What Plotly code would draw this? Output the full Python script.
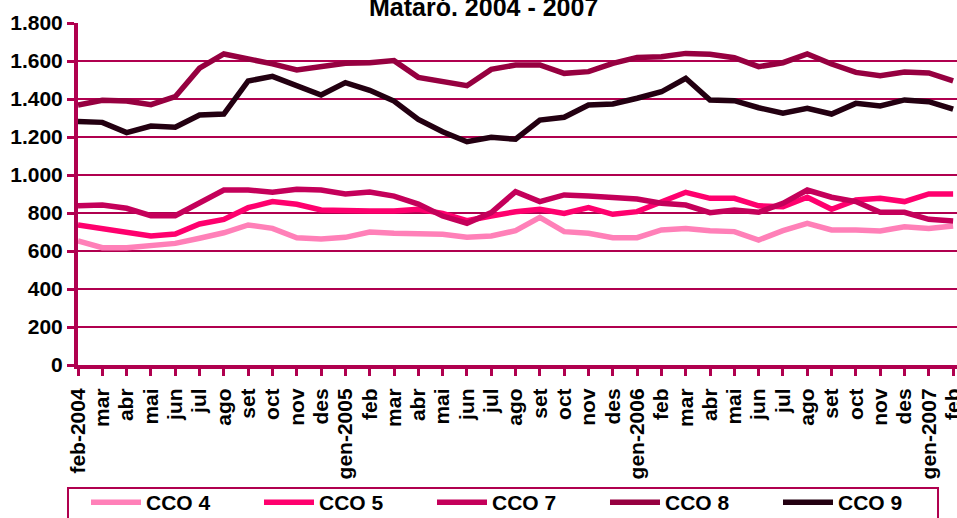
import plotly.graph_objects as go

labels = ["feb-2004", "mar", "abr", "mai", "jun", "jul", "ago", "set", "oct", "nov", "des",
          "gen-2005", "feb", "mar", "abr", "mai", "jun", "jul", "ago", "set", "oct", "nov", "des",
          "gen-2006", "feb", "mar", "abr", "mai", "jun", "jul", "ago", "set", "oct", "nov", "des",
          "gen-2007", "feb"]

cco4 = [653, 617, 617, 632, 640, 667, 696, 737, 719, 670, 663, 672, 700, 693, 688, 688, 672, 679,
        707, 777, 702, 693, 670, 670, 711, 719, 707, 702, 658, 707, 746, 711, 711, 705, 728, 719, 732]
cco5 = [737, 716, 702, 679, 689, 742, 766, 828, 860, 846, 816, 811, 811, 811, 820, 798, 760, 784,
        807, 820, 798, 828, 793, 807, 860, 909, 877, 877, 838, 833, 883, 820, 868, 877, 860, 900, 900]
cco7 = [838, 842, 825, 786, 786, 854, 921, 921, 909, 925, 921, 900, 910, 889, 847, 784, 746, 802,
        912, 860, 895, 889, 881, 874, 851, 842, 802, 816, 804, 851, 921, 883, 860, 804, 804, 767, 758]
cco8 = [1368, 1393, 1389, 1370, 1412, 1562, 1637, 1612, 1585, 1553, 1567, 1588, 1591, 1602, 1514,
        1491, 1470, 1556, 1579, 1579, 1535, 1544, 1588, 1619, 1622, 1640, 1635, 1617, 1570, 1591,
        1637, 1584, 1540, 1523, 1542, 1537, 1496]
cco9 = [1281, 1277, 1223, 1258, 1251, 1316, 1321, 1495, 1519, 1468, 1421, 1486, 1446, 1389, 1293,
        1228, 1175, 1198, 1188, 1289, 1304, 1368, 1374, 1404, 1438, 1509, 1395, 1391, 1354, 1325,
        1351, 1321, 1377, 1363, 1395, 1386, 1347]

series_names = ["CCO 4", "CCO 5", "CCO 7", "CCO 8", "CCO 9"]
series_values = [cco4, cco5, cco7, cco8, cco9]
series_colors = ["#FF80B8", "#FF006E", "#C4005A", "#960040", "#230011"]

title_text = "Mataró. 2004 - 2007"
y_ticks = [0, 200, 400, 600, 800, 1000, 1200, 1400, 1600, 1800]

axis_color = "#B0004F"
font_family = "Liberation Sans, Arial, sans-serif"

x_idx = list(range(len(labels)))

fig = go.Figure()
for name, vals, col in zip(series_names, series_values, series_colors):
    fig.add_trace(go.Scatter(
        x=x_idx, y=vals, name=name, mode="lines",
        line=dict(color=col, width=5.5),
    ))

fig.update_layout(
    width=957, height=518,
    margin=dict(l=78, r=0, t=23, b=153, autoexpand=False),
    paper_bgcolor="white", plot_bgcolor="white",
    separators=",.",
    showlegend=True,
    legend=dict(
        orientation="h",
        x=0.0091, y=-0.3421, xanchor="left", yanchor="top",
        borderwidth=0,
        font=dict(family=font_family, size=21, color="black", weight="bold"),
        entrywidth=108, entrywidthmode="pixels",
        itemwidth=50,
        bgcolor="rgba(0,0,0,0)",
    ),
    shapes=[dict(
        type="rect", xref="paper", yref="paper",
        x0=-0.01138, x1=0.9784, y0=-0.3596, y1=-0.6,
        line=dict(color=axis_color, width=2), fillcolor="rgba(0,0,0,0)",
        layer="below",
    )],
    annotations=[dict(
        text="<b>" + title_text + "</b>",
        xref="paper", yref="paper", x=0.461, y=1.0,
        xanchor="center", yanchor="bottom", showarrow=False,
        font=dict(family=font_family, size=25, color="black"),
    )],
)

fig.update_xaxes(
    range=[0, len(labels) - 1 + 0.16],
    tickmode="array", tickvals=x_idx, ticktext=labels,
    tickangle=-90,
    tickfont=dict(family=font_family, size=21, color="black", weight="bold"),
    ticklabeloverflow="allow",
    ticklabelstandoff=4,
    automargin=False,
    showline=True, linecolor=axis_color, linewidth=4,
    ticks="outside", ticklen=7, tickwidth=3, tickcolor=axis_color,
    showgrid=False, zeroline=False,
)
fig.update_yaxes(
    range=[0, 1800],
    tickmode="array", tickvals=y_ticks,
    tickformat=",d",
    tickfont=dict(family=font_family, size=21, color="black", weight="bold"),
    ticklabeloverflow="allow",
    automargin=False,
    showline=True, linecolor=axis_color, linewidth=4,
    ticks="outside", ticklen=7, tickwidth=3, tickcolor=axis_color,
    showgrid=True, gridcolor=axis_color, gridwidth=2,
    zeroline=False,
)

fig.write_html("out.html",
               config={"displayModeBar": False},
               post_script="document.body.style.margin='0';document.body.style.overflow='hidden';")
